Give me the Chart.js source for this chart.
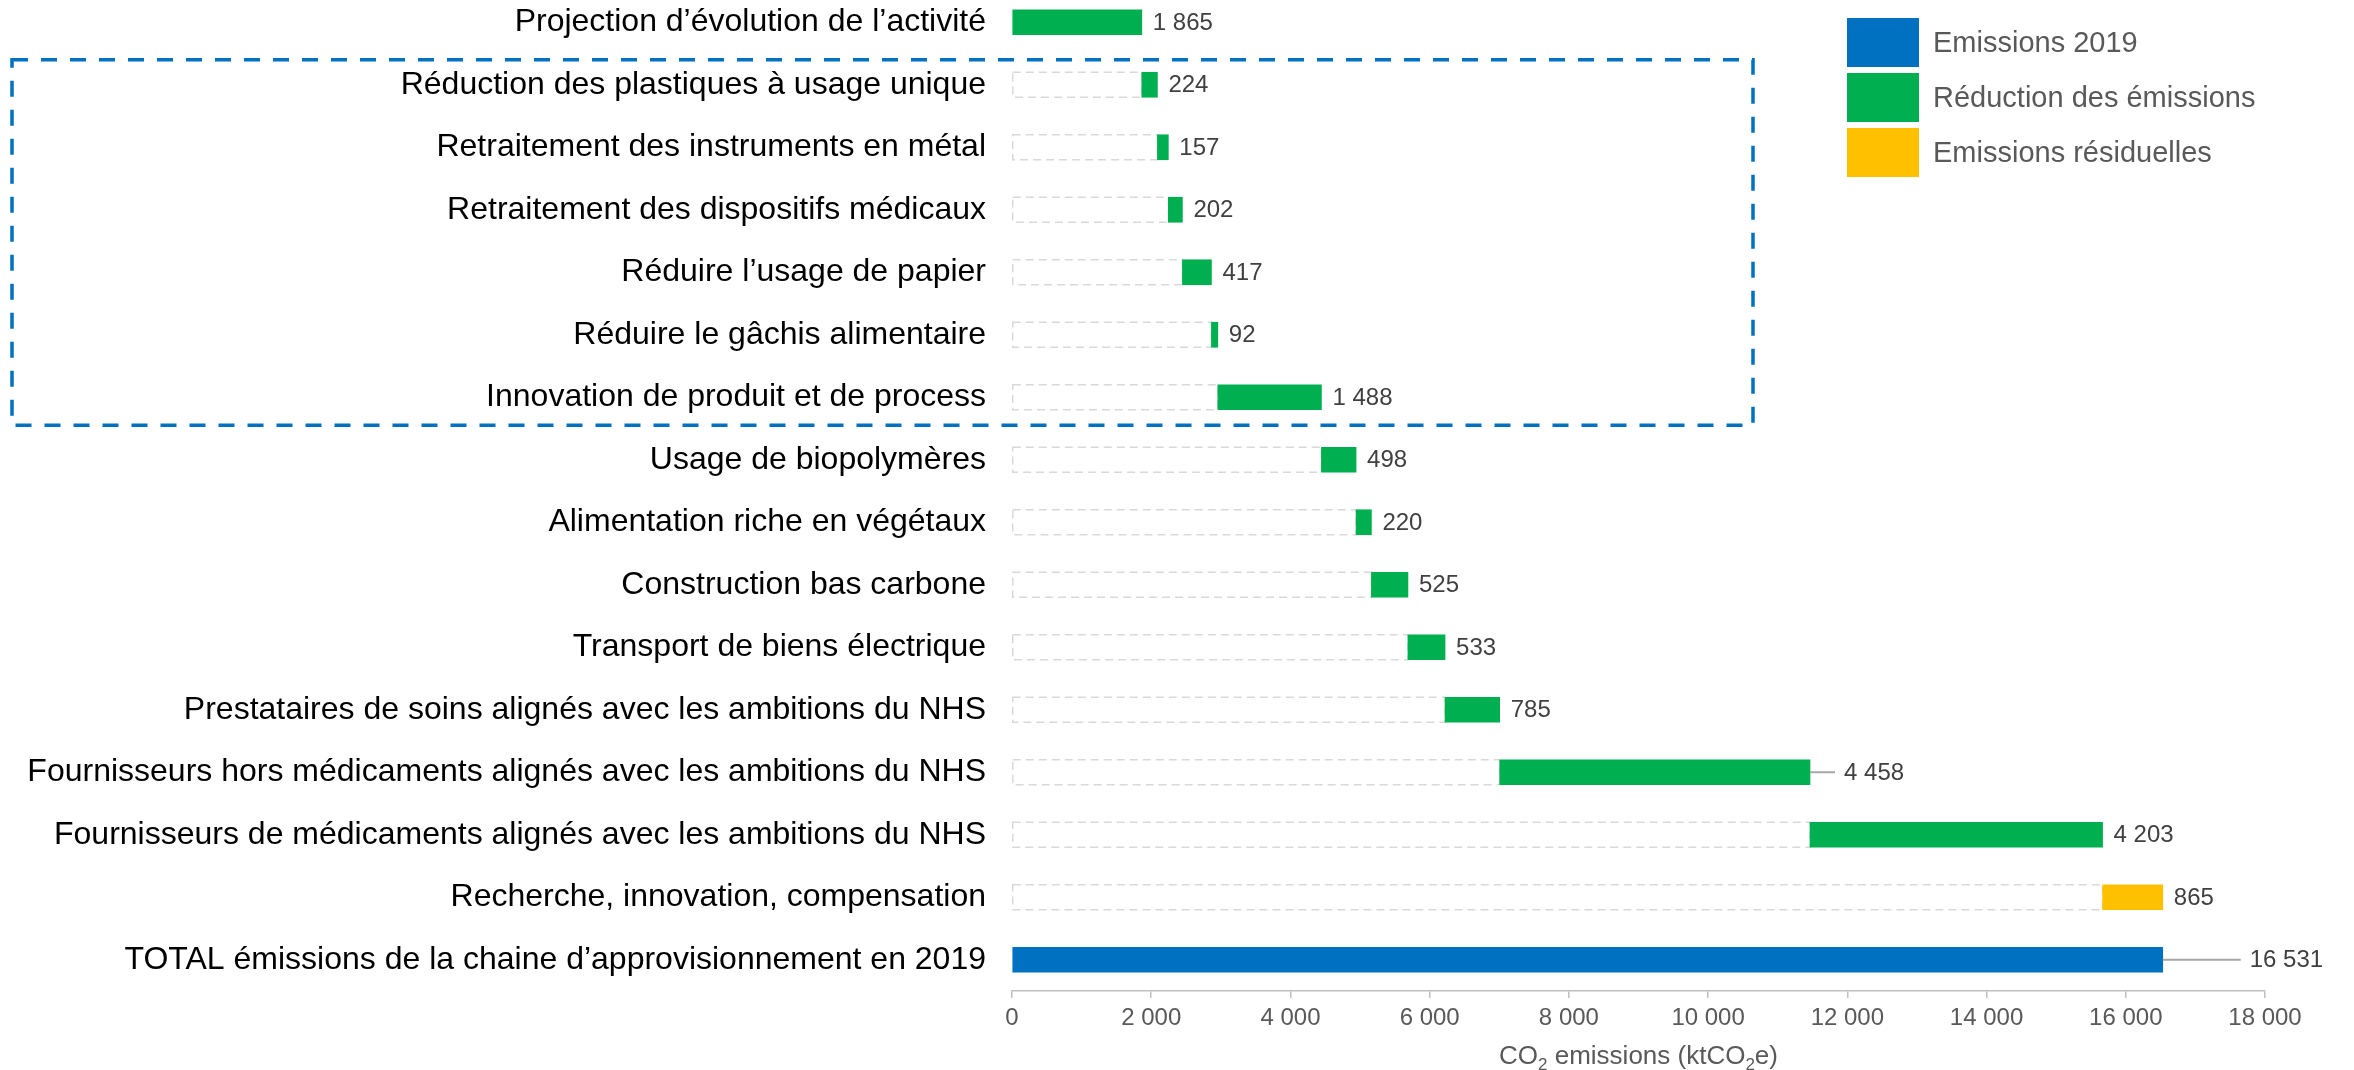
<!DOCTYPE html>
<html lang="fr">
<head>
<meta charset="utf-8">
<title>Emissions de la chaine d'approvisionnement</title>
<script src="https://cdn.jsdelivr.net/npm/chart.js@4.4.1/dist/chart.umd.min.js"></script>
<style>
  html, body { margin: 0; padding: 0; background: #fff; overflow: hidden; }
  #wrap { width: 2354px; height: 1070px; overflow: hidden; position: relative; }
  /* la première catégorie touche presque le haut : on décale le canvas de 9 px */
  #chart { position: absolute; left: 0; top: -9px; }
</style>
</head>
<body>
<div id="wrap"><canvas id="chart" width="2354" height="1079"></canvas></div>
<script>
// --- données ---
const categories = [
  'Projection d’évolution de l’activité',
  'Réduction des plastiques à usage unique',
  'Retraitement des instruments en métal',
  'Retraitement des dispositifs médicaux',
  'Réduire l’usage de papier',
  'Réduire le gâchis alimentaire',
  'Innovation de produit et de process',
  'Usage de biopolymères',
  'Alimentation riche en végétaux',
  'Construction bas carbone',
  'Transport de biens électrique',
  'Prestataires de soins alignés avec les ambitions du NHS',
  'Fournisseurs hors médicaments alignés avec les ambitions du NHS',
  'Fournisseurs de médicaments alignés avec les ambitions du NHS',
  'Recherche, innovation, compensation',
  'TOTAL émissions de la chaine d’approvisionnement en 2019'
];
const values = [1865, 224, 157, 202, 417, 92, 1488, 498, 220, 525, 533, 785, 4458, 4203, 865, 16531];
const kinds = ['reduction', 'reduction', 'reduction', 'reduction', 'reduction', 'reduction', 'reduction',
  'reduction', 'reduction', 'reduction', 'reduction', 'reduction', 'reduction', 'reduction', 'residual', 'total'];
const legendLabels = ['Emissions 2019', 'Réduction des émissions', 'Emissions résiduelles'];
const axisTitle = [['CO', false], ['2', true], [' emissions (ktCO', false], ['2', true], ['e)', false]];
const groupedRows = [1, 6]; // lignes entourées par le cadre bleu

const COLORS = { total: '#0070c0', reduction: '#00b050', residual: '#ffc000' };
const FONT = "'Liberation Sans', Arial, sans-serif";
const fmt = v => String(Math.round(v)).replace(/\B(?=(\d{3})+(?!\d))/g, ' ');

// cascade : base invisible + segment coloré
const baseData = [], totalData = [], reductionData = [], residualData = [];
let running = 0;
values.forEach((v, i) => {
  const k = kinds[i];
  if (k === 'total') {
    baseData.push(null);
    totalData.push([0, v]);
    reductionData.push(null);
    residualData.push(null);
    return;
  }
  const start = running;
  running += v;
  baseData.push(start > 0 ? [0, start] : null);
  totalData.push(null);
  reductionData.push(k === 'reduction' ? [start, running] : null);
  residualData.push(k === 'residual' ? [start, running] : null);
});

Chart.defaults.font.family = FONT;

const decor = {
  id: 'decor',
  beforeDatasetsDraw(chart) {
    // contours pointillés des bases
    const ctx = chart.ctx;
    const meta = chart.getDatasetMeta(0);
    ctx.save();
    ctx.setLineDash([8, 5]);
    ctx.strokeStyle = '#d9d9d9';
    ctx.lineWidth = 1.5;
    meta.data.forEach((el, i) => {
      if (baseData[i] == null) return;
      const p = el.getProps(['x', 'y', 'base', 'height'], true);
      ctx.strokeRect(p.base, p.y - p.height / 2, p.x - p.base, p.height);
    });
    ctx.restore();
  },
  afterDraw(chart, args, opts) {
    const ctx = chart.ctx;
    const yScale = chart.scales.y;
    const area = chart.chartArea;

    // étiquettes de valeurs
    ctx.save();
    ctx.font = '24px ' + FONT;
    ctx.fillStyle = '#404040';
    ctx.textBaseline = 'middle';
    ctx.textAlign = 'left';
    values.forEach((v, i) => {
      let el = null;
      [1, 2, 3].forEach(d => {
        if (chart.data.datasets[d].data[i] != null) el = chart.getDatasetMeta(d).data[i];
      });
      if (!el) return;
      const p = el.getProps(['x', 'y'], true);
      const lead = opts.leaders[i] || 0;
      if (lead) {
        ctx.strokeStyle = '#a6a6a6';
        ctx.lineWidth = 2;
        ctx.beginPath();
        ctx.moveTo(p.x, p.y);
        ctx.lineTo(p.x + lead, p.y);
        ctx.stroke();
      }
      ctx.fillText(fmt(v), p.x + (lead ? lead + 9 : opts.gap), p.y + 1);
    });
    ctx.restore();

    // titre de l'axe avec indices
    ctx.save();
    ctx.fillStyle = '#595959';
    ctx.textBaseline = 'alphabetic';
    const big = '26px ' + FONT, small = '17px ' + FONT;
    let w = 0;
    axisTitle.forEach(([t, sub]) => { ctx.font = sub ? small : big; w += ctx.measureText(t).width; });
    let x = (area.left + area.right) / 2 - w / 2;
    const base = opts.titleY;
    axisTitle.forEach(([t, sub]) => {
      ctx.font = sub ? small : big;
      ctx.fillText(t, x, sub ? base + 6 : base);
      x += ctx.measureText(t).width;
    });
    ctx.restore();

    // cadre bleu pointillé
    const top = yScale.getPixelForValue(groupedRows[0]) - 25;
    const bottom = yScale.getPixelForValue(groupedRows[1]) + 28;
    ctx.save();
    ctx.strokeStyle = '#0070c0';
    ctx.lineWidth = 3.5;
    ctx.setLineDash([16, 13]);
    ctx.strokeRect(opts.boxLeft, top, opts.boxRight - opts.boxLeft, bottom - top);
    ctx.restore();

    // légende
    ctx.save();
    ctx.font = '29px ' + FONT;
    ctx.textBaseline = 'middle';
    [1, 2, 3].forEach((d, j) => {
      const ds = chart.data.datasets[d];
      const y = opts.legendY + j * 55;
      ctx.fillStyle = ds.backgroundColor;
      ctx.fillRect(opts.legendX, y, 72, 49);
      ctx.fillStyle = '#595959';
      ctx.fillText(ds.label, opts.legendX + 86, y + 26);
    });
    ctx.restore();
  }
};

const barStyle = { barThickness: 25, grouped: false, borderWidth: 0, borderSkipped: false };

new Chart(document.getElementById('chart'), {
  type: 'bar',
  data: {
    labels: categories,
    datasets: [
      { label: 'base', data: baseData, backgroundColor: 'rgba(0,0,0,0)', ...barStyle },
      { label: legendLabels[0], data: totalData, backgroundColor: COLORS.total, ...barStyle },
      { label: legendLabels[1], data: reductionData, backgroundColor: COLORS.reduction, ...barStyle },
      { label: legendLabels[2], data: residualData, backgroundColor: COLORS.residual, ...barStyle }
    ]
  },
  options: {
    indexAxis: 'y',
    responsive: false,
    animation: false,
    devicePixelRatio: 1,
    layout: { padding: { top: 0, right: 89, left: 0, bottom: 0 } },
    scales: {
      x: {
        min: 0,
        max: 18000,
        ticks: { stepSize: 2000, callback: v => fmt(v), color: '#595959', font: { size: 24 }, padding: 6, maxRotation: 0 },
        grid: { drawOnChartArea: false, drawTicks: true, tickLength: 7, color: '#bfbfbf', lineWidth: 1.5 },
        border: { color: '#bfbfbf', width: 1.5 },
        afterFit: s => { s.height = 79; s.paddingLeft = 0; s.paddingRight = 0; }
      },
      y: {
        grid: { display: false, drawTicks: false },
        border: { display: false },
        ticks: { color: '#000000', font: { size: 32 }, padding: 26, autoSkip: false },
        afterFit: s => { s.width = 1012; s.paddingTop = 0; s.paddingBottom = 0; }
      }
    },
    plugins: {
      legend: { display: false },
      tooltip: { enabled: false },
      decor: { gap: 11, leaders: { 12: 25, 15: 78 }, boxLeft: 12, boxRight: 1753, legendX: 1847, legendY: 27, titleY: 1073 }
    }
  },
  plugins: [decor]
});
</script>
</body>
</html>
